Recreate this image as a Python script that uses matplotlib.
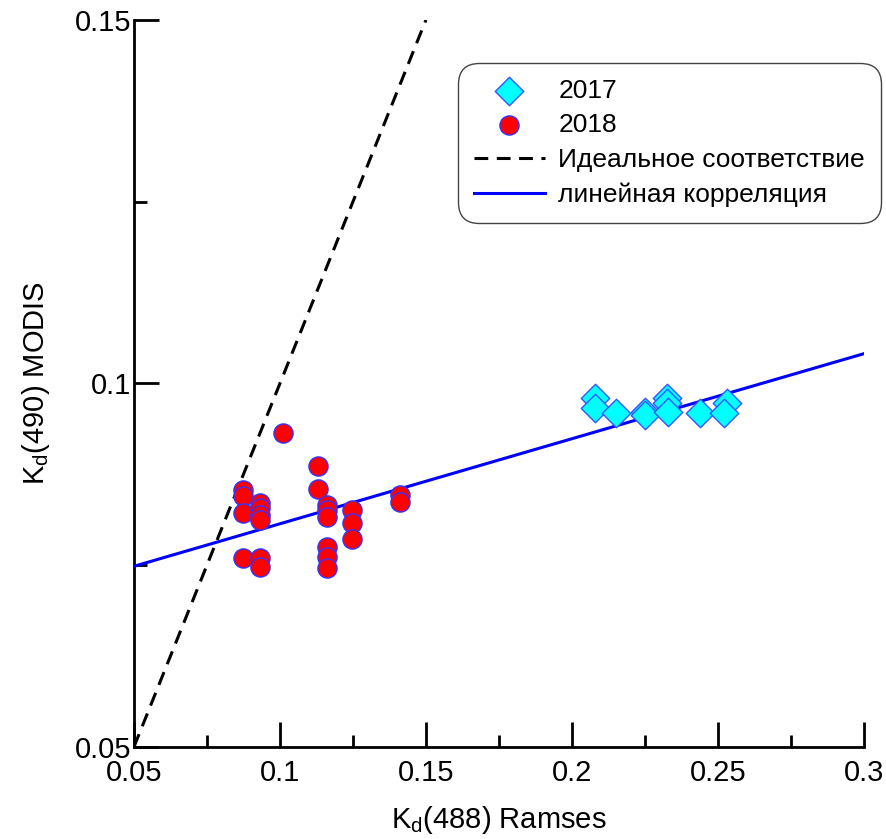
import matplotlib.pyplot as plt
import numpy as np

plt.rcParams['font.family'] = ['Liberation Sans', 'DejaVu Sans']

# 2017 data (diamonds)
x2017 = [0.208, 0.208, 0.215, 0.225, 0.225, 0.2325, 0.2325, 0.233, 0.244, 0.253, 0.252]
y2017 = [0.0980, 0.0966, 0.0959, 0.0961, 0.0957, 0.0980, 0.0973, 0.0961, 0.0959, 0.0973, 0.0959]

# 2018 data (circles)
x2018 = [0.101,
         0.0873, 0.0873, 0.0873, 0.0873,
         0.0932, 0.0932, 0.0932, 0.0932, 0.0932, 0.0932,
         0.113, 0.113,
         0.116, 0.116, 0.116, 0.116, 0.116, 0.116,
         0.1247, 0.1247, 0.1247,
         0.141, 0.141]
y2018 = [0.0932,
         0.0854, 0.0845, 0.0822, 0.0760,
         0.0836, 0.0829, 0.0819, 0.0812, 0.0760, 0.0748,
         0.0887, 0.0855,
         0.0833, 0.0826, 0.0816, 0.0775, 0.0761, 0.0746,
         0.0826, 0.0808, 0.0786,
         0.0846, 0.0837]

# regression line
slope = 0.117
intercept = 0.069

fig = plt.figure(figsize=(8.87, 8.39), dpi=100)
ax = fig.add_axes([0.151, 0.1097, 0.823, 0.8665])

ideal = np.array([0.05, 0.15])
ax.plot(ideal, ideal, color='black', ls=(0, (4.5, 2.8)), lw=2.2,
        label='Идеальное соответствие', zorder=2)
xl = np.array([0.05, 0.3])
ax.plot(xl, intercept + slope * xl, color='#0000ff', lw=2.2,
        label='линейная корреляция', zorder=3)

ax.scatter(x2017, y2017, marker='D', s=210, facecolor='#00ffff',
           edgecolor='#3355ff', linewidth=1, label='2017', zorder=4)
ax.scatter(x2018, y2018, marker='o', s=190, facecolor='#ff0000',
           edgecolor='#3333ff', linewidth=1, label='2018', zorder=4)

ax.set_xlim(0.05, 0.3)
ax.set_ylim(0.05, 0.15)
ax.set_xticks([0.05, 0.1, 0.15, 0.2, 0.25, 0.3])
ax.set_xticklabels(['0.05', '0.1', '0.15', '0.2', '0.25', '0.3'])
ax.set_xticks([0.075, 0.125, 0.175, 0.225, 0.275], minor=True)
ax.set_yticks([0.05, 0.1, 0.15])
ax.set_yticklabels(['0.05', '0.1', '0.15'])
ax.set_yticks([0.075, 0.125], minor=True)

for s in ['top', 'right']:
    ax.spines[s].set_visible(False)
for s in ['left', 'bottom']:
    ax.spines[s].set_linewidth(2)

ax.tick_params(which='major', direction='in', length=18, width=2, labelsize=21)
ax.tick_params(which='minor', direction='in', length=9, width=2)
ax.tick_params(axis='x', which='major', pad=9)
ax.tick_params(axis='y', which='major', pad=2)

ax.set_xlabel('K$_\\mathregular{d}$(488) Ramses', fontsize=21, labelpad=12)
ax.set_ylabel('K$_\\mathregular{d}$(490) MODIS', fontsize=21, labelpad=16)

handles, labels = ax.get_legend_handles_labels()
order = [2, 3, 0, 1]
leg = ax.legend([handles[i] for i in order], [labels[i] for i in order],
                loc='upper right', bbox_to_anchor=(0.990, 0.922),
                bbox_transform=fig.transFigure, fontsize=19, frameon=True,
                fancybox=True, edgecolor='#444444', framealpha=1,
                handlelength=2.7, handletextpad=0.5, borderpad=0.5,
                labelspacing=0.4, borderaxespad=0)
leg.get_frame().set_linewidth(1)
leg.get_frame().set_boxstyle('round', pad=0.1, rounding_size=0.8)

fig.savefig('out.png', dpi=100)
